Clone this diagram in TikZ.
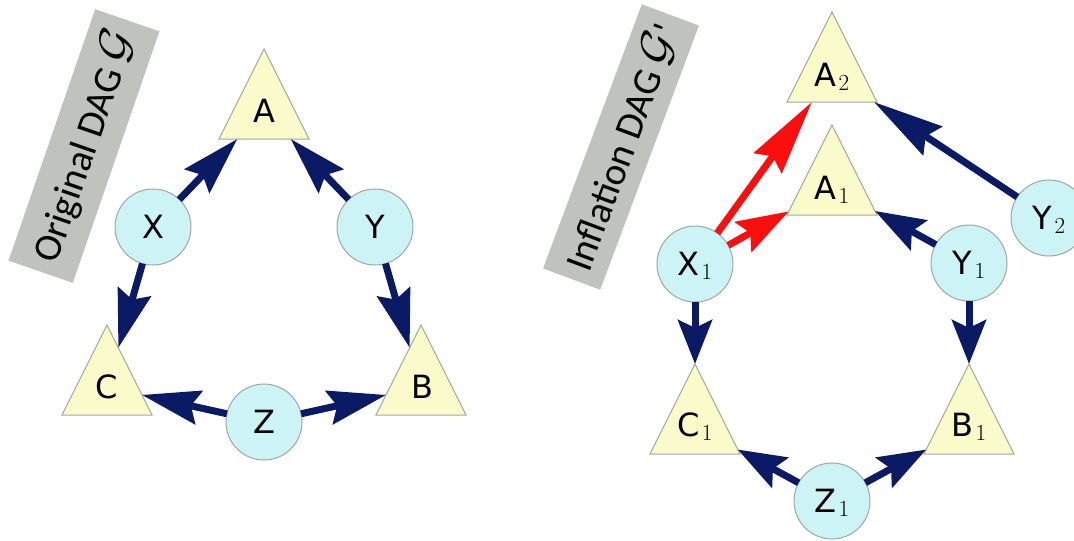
\RequirePackage{fix-cm}
\documentclass[tikz,border=0pt]{standalone}
\usepackage{fontspec}
\setsansfont{DejaVu Sans}
\newfontfamily\boxfont{Carlito}
\usetikzlibrary{shapes.geometric,arrows.meta}
\definecolor{navy}{RGB}{10,26,100}
\definecolor{arrred}{RGB}{250,14,14}
\definecolor{trifill}{RGB}{250,250,202}
\definecolor{circfill}{RGB}{204,244,246}
\definecolor{edgegray}{RGB}{160,170,155}
\definecolor{boxgray}{RGB}{192,195,189}
\newcommand{\sbs}[1]{\hspace{2pt}{\rmfamily\fontsize{23}{23}\selectfont\raisebox{-4pt}{#1}}}
\newcommand{\bigG}{\raisebox{1pt}{\scalebox{1.2}{$\mathcal{G}$}}}
\begin{document}
\begin{tikzpicture}[x=1pt,y=-1pt,
  tri/.style={isosceles triangle, isosceles triangle stretches, shape border rotate=90,
    minimum width=90pt, minimum height=90pt, inner sep=0pt, outer sep=0pt,
    draw=edgegray, fill=trifill, line width=1pt, anchor=apex},
  circ/.style={circle, minimum size=76pt, inner sep=0pt, outer sep=0pt,
    draw=edgegray, fill=circfill, line width=1pt,
    font=\sffamily\fontsize{32}{32}\selectfont, text height=23pt, text depth=0pt},
  lab/.style={font=\sffamily\fontsize{32}{32}\selectfont, inner sep=0pt,
    text height=23pt, text depth=0pt},
  labelbox/.style={fill=boxgray, inner sep=0pt, font=\boxfont\upshape\fontsize{39}{41}\selectfont},
  arr/.style={draw=navy, line width=7pt, -{Stealth[length=#1,width=34pt,inset=8pt]}},
  arr/.default=58pt,
  rarr/.style={arr=#1, draw=arrred},
]
\useasboundingbox (0,0) rectangle (1074,541);
\clip (0,0) rectangle (1074,541);

% ---- left panel: original DAG
\node[labelbox, rotate=71, minimum width=266pt, minimum height=68pt] (t1) at (84,146) {Original DAG \bigG};

\node[tri] (A) at (264,49) {};
\node[tri] (B) at (421,325) {};
\node[tri] (C) at (107,325) {};
\node[lab] (lA) at (264,111) {A};
\node[lab] (lB) at (422,387) {B};
\node[lab] (lC) at (107,387) {C};
\node[circ] (X) at (153,227) {X};
\node[circ] (Y) at (375,227) {Y};
\node[circ] (Z) at (264,422) {Z};

\draw[arr] (X) -- (A);
\draw[arr] (Y) -- (A);
\draw[arr] (X) -- (C);
\draw[arr] (Y) -- (B);
\draw[arr] (Z) -- (C);
\draw[arr] (Z) -- (B);

% ---- right panel: inflation DAG
\node[labelbox, rotate=69.5, minimum width=282pt, minimum height=61pt] (t2) at (621,147) {Inflation DAG \bigG'};

\node[tri] (A2) at (832,12) {};
\node[tri] (A1) at (832,125) {};
\node[tri] (C1) at (695,364) {};
\node[tri] (B1) at (969,364) {};
\node[lab] (lA2) at (832,75) {A\sbs{2}};
\node[lab] (lA1) at (832,188) {A\sbs{1}};
\node[lab] (lC1) at (695,425) {C\sbs{1}};
\node[lab] (lB1) at (969,425) {B\sbs{1}};
\node[circ] (X1) at (695,264) {X\sbs{1}};
\node[circ] (Y1) at (969,263) {Y\sbs{1}};
\node[circ] (Y2) at (1049,218) {Y\sbs{2}};
\node[circ] (Z1) at (832,501) {Z\sbs{1}};

\draw[rarr=75pt] (X1) -- (A2);
\draw[rarr=52pt] (X1) -- (A1);
\draw[arr=50pt] (Y1) -- (A1);
\draw[arr=70pt] (Y2) -- (A2);
\draw[arr=44pt] (X1) -- (C1);
\draw[arr=44pt] (Y1) -- (B1);
\draw[arr=48pt] (Z1) -- (C1);
\draw[arr=48pt] (Z1) -- (B1);
\end{tikzpicture}
\end{document}
